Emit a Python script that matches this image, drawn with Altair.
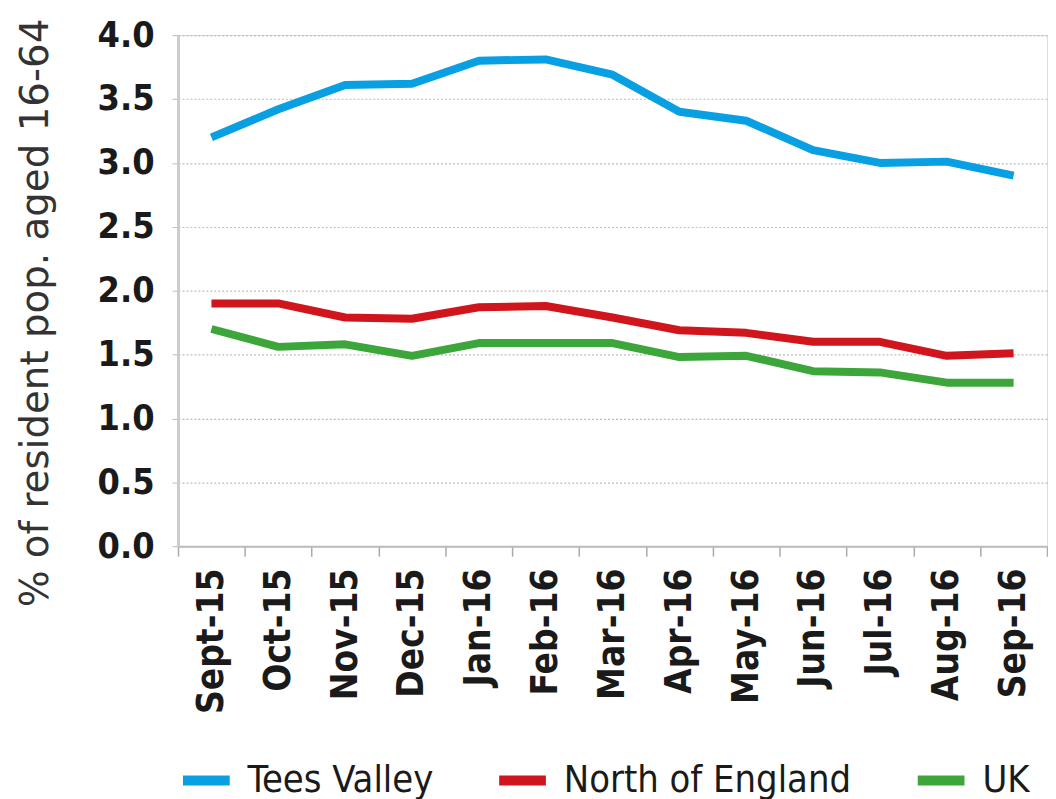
import altair as alt
import pandas as pd

months = ["Sept-15", "Oct-15", "Nov-15", "Dec-15", "Jan-16", "Feb-16", "Mar-16",
          "Apr-16", "May-16", "Jun-16", "Jul-16", "Aug-16", "Sep-16"]
tees_valley = [3.2, 3.42, 3.61, 3.62, 3.8, 3.81, 3.69, 3.4, 3.33, 3.1, 3.0, 3.01, 2.9]
north_england = [1.9, 1.9, 1.79, 1.78, 1.87, 1.88, 1.79, 1.69, 1.67, 1.6, 1.6, 1.49, 1.51]
uk = [1.7, 1.56, 1.58, 1.49, 1.59, 1.59, 1.59, 1.48, 1.49, 1.37, 1.36, 1.28, 1.28]
series = ["Tees Valley", "North of England", "UK"]
colors = ["#08A0E2", "#D0161C", "#3CA63A"]
y_ticks = [0.0, 0.5, 1.0, 1.5, 2.0, 2.5, 3.0, 3.5, 4.0]

rows = []
for name, vals in zip(series, [tees_valley, north_england, uk]):
    for m, v in zip(months, vals):
        rows.append({"month": m, "series": name, "value": v})
df = pd.DataFrame(rows)

FONT = "DejaVu Sans Condensed, Roboto, sans-serif"

chart = alt.Chart(df).mark_line(strokeWidth=8, strokeCap="butt", strokeJoin="round").encode(
    x=alt.X("month:O", sort=months,
            scale=alt.Scale(type="band", paddingInner=0, paddingOuter=0),
            bandPosition=0.5,
            axis=alt.Axis(title=None, labelAngle=-90, tickBand="extent",
                          labelFont=FONT, labelFontSize=37, labelFontWeight="bold",
                          labelColor="#1a1a1a", labelPadding=12, tickSize=10,
                          tickColor="#aaaaaa", domainColor="#bbbbbb", domainWidth=2,
                          tickWidth=1.5, grid=False, labelBaseline="middle")),
    y=alt.Y("value:Q", scale=alt.Scale(domain=[0, 4], nice=False),
            axis=alt.Axis(title="% of resident pop. aged 16-64", values=y_ticks, format=".1f",
                          labelFont=FONT, labelFontSize=36, labelFontWeight="bold",
                          labelColor="#1a1a1a", labelPadding=18, tickSize=6,
                          tickColor="#bbbbbb", domainColor="#cccccc", domainWidth=3,
                          grid=True, gridDash=[2, 2], gridColor="#bbbbbb", gridWidth=1.2,
                          titleFont="DejaVu Sans, sans-serif", titleFontSize=39,
                          titleFontWeight="normal", titleColor="#333333", titlePadding=42,
                          titleY=279)),
    color=alt.Color("series:N", sort=series,
                    scale=alt.Scale(domain=series, range=colors),
                    legend=alt.Legend(title=None, orient="bottom", direction="horizontal",
                                      symbolType="stroke", symbolStrokeWidth=10, symbolSize=2209,
                                      labelFont=FONT, labelFontSize=38, labelColor="#1a1a1a",
                                      labelOffset=13, columnPadding=46, labelLimit=500,
                                      offset=38)),
).properties(width=874, height=514).configure_view(stroke=None).configure(
    padding={"left": 8, "top": 7, "right": 0, "bottom": 0}
)

chart.save("out.html", embed_options={"renderer": "svg", "actions": False})
